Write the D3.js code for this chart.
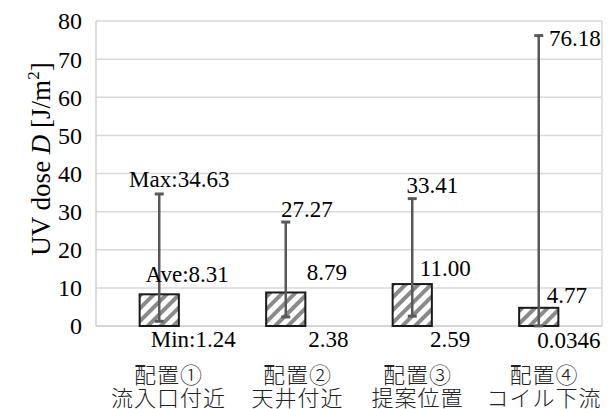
<!DOCTYPE html>
<html>
<head>
<meta charset="utf-8">
<script src="https://cdn.jsdelivr.net/npm/d3@7"></script>
<style>
  html, body { margin: 0; padding: 0; background: #fff; }
  svg { display: block; }
</style>
</head>
<body>
<svg id="chart" width="616" height="409"></svg>
<script>
// Placement arrangements (two-line category labels)
const categoryLine1 = ["配置①", "配置②", "配置③", "配置④"];
const categoryLine2 = ["流入口付近", "天井付近", "提案位置", "コイル下流"];

// UV dose statistics per arrangement [J/m²]
const aveValues = [8.31, 8.79, 11.00, 4.77];
const maxValues = [34.63, 27.27, 33.41, 76.18];
const minValues = [1.24, 2.38, 2.59, 0.0346];

// Label texts shown next to each statistic
const maxLabels = ["Max:34.63", "27.27", "33.41", "76.18"];
const aveLabels = ["Ave:8.31", "8.79", "11.00", "4.77"];
const minLabels = ["Min:1.24", "2.38", "2.59", "0.0346"];

const yTicks = [0, 10, 20, 30, 40, 50, 60, 70, 80];

// Hand-tuned label nudges (pixels from the category centre / value position)
const maxNudge = [{dx: 20, dy: -7}, {dx: 21, dy: -5}, {dx: 20, dy: -5.5}, {dx: 36, dy: 10}];
const aveNudge = [{dx: 28, dy: -12}, {dx: 41, dy: -12.5}, {dx: 33, dy: -8.5}, {dx: 28, dy: -4.5}];
const minNudge = [{dx: 34, dy: 25.5}, {dx: 42.5, dy: 30}, {dx: 37.75, dy: 31}, {dx: 30, dy: 22}];
const catNudge = [8.75, 11.25, 4.75, 4.75];

const SERIF = "'Liberation Serif', 'Times New Roman', serif";
const CJK = "'Noto Sans CJK JP', 'Liberation Serif', serif";

const svg = d3.select("#chart");
const margin = {left: 96, right: 14, top: 21, bottom: 83};
const W = 616, H = 409;
const plotL = margin.left, plotR = W - margin.right;
const plotT = margin.top, plotB = H - margin.bottom;

const x = d3.scaleBand()
  .domain(d3.range(categoryLine1.length))
  .range([plotL, plotR])
  .padding(0);
const y = d3.scaleLinear().domain([0, 80]).range([plotB, plotT]);
const barW = x.bandwidth() * 0.31;
const cx = i => x(i) + x.bandwidth() / 2;

// Hatch fill for bars
const defs = svg.append("defs");
const pat = defs.append("pattern")
  .attr("id", "hatch")
  .attr("patternUnits", "userSpaceOnUse")
  .attr("width", 9).attr("height", 9)
  .attr("patternTransform", "rotate(45)");
pat.append("rect").attr("width", 9).attr("height", 9).attr("fill", "#fff");
pat.append("line")
  .attr("x1", 2).attr("y1", 0).attr("x2", 2).attr("y2", 9)
  .attr("stroke", "#8a8a8a").attr("stroke-width", 4);

// Horizontal gridlines
svg.append("g")
  .selectAll("line")
  .data(yTicks.filter(t => t > 0))
  .join("line")
  .attr("x1", plotL).attr("x2", plotR)
  .attr("y1", d => y(d)).attr("y2", d => y(d))
  .attr("stroke", "#d9d9d9").attr("stroke-width", 1.5);

// Plot frame: left axis, right border, baseline
svg.append("line").attr("x1", plotL).attr("x2", plotL).attr("y1", plotT).attr("y2", plotB)
  .attr("stroke", "#d0d0d0").attr("stroke-width", 1.5);
svg.append("line").attr("x1", plotR).attr("x2", plotR).attr("y1", plotT).attr("y2", plotB)
  .attr("stroke", "#d9d9d9").attr("stroke-width", 1.5);
svg.append("line").attr("x1", plotL).attr("x2", plotR).attr("y1", plotB).attr("y2", plotB)
  .attr("stroke", "#c8c8c8").attr("stroke-width", 1.5);

// Y axis tick labels
const yAxis = d3.axisLeft(y).tickValues(yTicks).tickSize(0).tickPadding(14).tickFormat(d3.format("d"));
const gy = svg.append("g").attr("transform", `translate(${plotL},0)`).call(yAxis)
  .attr("font-family", SERIF).attr("font-size", 24);
gy.select(".domain").remove();
gy.selectAll("text")
  .attr("fill", "#000")
  .attr("dy", "0.33em");

// Average bars
svg.append("g")
  .selectAll("rect")
  .data(aveValues)
  .join("rect")
  .attr("x", (d, i) => cx(i) - barW / 2)
  .attr("width", barW)
  .attr("y", d => y(d))
  .attr("height", d => y(0) - y(d))
  .attr("fill", "url(#hatch)")
  .attr("stroke", "#1a1a1a")
  .attr("stroke-width", 2);

// Min–max range bars
const capW = 9;
const eb = svg.append("g").attr("stroke", "#595959").attr("stroke-width", 2.5);
maxValues.forEach((mx, i) => {
  const c = cx(i);
  eb.append("line").attr("x1", c).attr("x2", c).attr("y1", y(minValues[i])).attr("y2", y(mx));
  eb.append("line").attr("x1", c - capW / 2).attr("x2", c + capW / 2)
    .attr("y1", y(mx)).attr("y2", y(mx)).attr("stroke-width", 3);
  eb.append("line").attr("x1", c - capW / 2).attr("x2", c + capW / 2)
    .attr("y1", y(minValues[i])).attr("y2", y(minValues[i])).attr("stroke-width", 3);
});

// Value labels
function drawLabels(values, labels, nudge) {
  svg.append("g")
    .attr("font-family", SERIF)
    .attr("font-size", 23)
    .attr("fill", "#000")
    .attr("text-anchor", "middle")
    .selectAll("text")
    .data(values)
    .join("text")
    .attr("x", (d, i) => cx(i) + nudge[i].dx)
    .attr("y", (d, i) => y(d) + nudge[i].dy)
    .text((d, i) => labels[i]);
}
drawLabels(maxValues, maxLabels, maxNudge);
drawLabels(aveValues, aveLabels, aveNudge);
drawLabels(minValues, minLabels, minNudge);

// Category labels
const cat = svg.append("g")
  .attr("font-family", CJK)
  .attr("font-size", 22)
  .attr("font-weight", 300)
  .attr("letter-spacing", 1)
  .attr("fill", "#222")
  .attr("text-anchor", "middle");
categoryLine1.forEach((t, i) => {
  cat.append("text").attr("x", cx(i) + catNudge[i] + 0.5).attr("y", plotB + 57).text(t);
  cat.append("text").attr("x", cx(i) + catNudge[i] + 0.5).attr("y", plotB + 80).text(categoryLine2[i]);
});

// Y axis title
const title = svg.append("text")
  .attr("font-family", SERIF)
  .attr("font-size", 27)
  .attr("fill", "#000")
  .attr("text-anchor", "middle")
  .attr("transform", `translate(50, 159) rotate(-90)`);
title.append("tspan").text("UV dose ");
title.append("tspan").attr("font-style", "italic").text("D");
title.append("tspan").text(" [J/m");
title.append("tspan").attr("font-size", 17).attr("dy", -11).text("2");
title.append("tspan").attr("dy", 11).text("]");
</script>
</body>
</html>
